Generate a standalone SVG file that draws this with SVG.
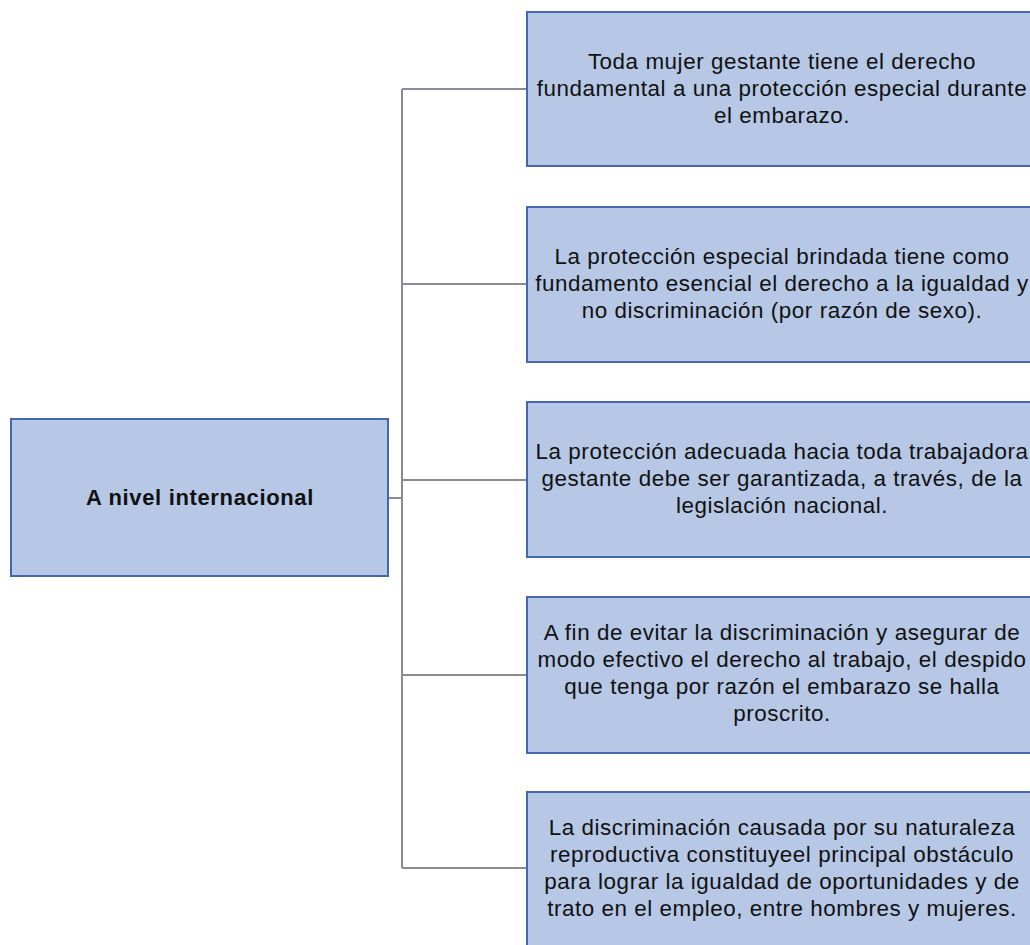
<svg xmlns="http://www.w3.org/2000/svg" width="1030" height="945" viewBox="0 0 1030 945">
<style>
.box{fill:#b6c8e6;stroke:#4467b0;stroke-width:2}
.t{font-family:"Liberation Sans",Arial,sans-serif;font-size:22.4px;letter-spacing:0.55px;fill:#111;text-anchor:middle}
.b{font-weight:bold;font-size:22px;letter-spacing:0.65px}
.c{stroke:#8a8a98;stroke-width:2;fill:none}
</style>
<rect width="1030" height="945" fill="#ffffff"/>
<g id="connectors">
<line class="c" x1="402" y1="89" x2="402" y2="868"/>
<line class="c" x1="389" y1="498" x2="402" y2="498"/>
<line class="c" x1="402" y1="89" x2="527" y2="89"/>
<line class="c" x1="402" y1="284" x2="527" y2="284"/>
<line class="c" x1="402" y1="480" x2="527" y2="480"/>
<line class="c" x1="402" y1="675" x2="527" y2="675"/>
<line class="c" x1="402" y1="868" x2="527" y2="868"/>
</g>
<g id="root">
<rect class="box" x="11" y="419" width="377" height="157"/>
<text class="t b" x="200" y="505">A nivel internacional</text>
</g>
<g id="n1">
<rect class="box" x="527" y="12" width="520" height="154"/>
<text class="t" x="782" y="69">Toda mujer gestante tiene el derecho</text>
<text class="t" x="782" y="96">fundamental a una protección especial durante</text>
<text class="t" x="782" y="123">el embarazo.</text>
</g>
<g id="n2">
<rect class="box" x="527" y="207" width="520" height="155"/>
<text class="t" x="782" y="264">La protección especial brindada tiene como</text>
<text class="t" x="782" y="291">fundamento esencial el derecho a la igualdad y</text>
<text class="t" x="782" y="318">no discriminación (por razón de sexo).</text>
</g>
<g id="n3">
<rect class="box" x="527" y="402" width="520" height="155"/>
<text class="t" x="782" y="459">La protección adecuada hacia toda trabajadora</text>
<text class="t" x="782" y="486">gestante debe ser garantizada, a través, de la</text>
<text class="t" x="782" y="513">legislación nacional.</text>
</g>
<g id="n4">
<rect class="box" x="527" y="597" width="520" height="156"/>
<text class="t" x="782" y="640">A fin de evitar la discriminación y asegurar de</text>
<text class="t" x="782" y="667">modo efectivo el derecho al trabajo, el despido</text>
<text class="t" x="782" y="694">que tenga por razón el embarazo se halla</text>
<text class="t" x="782" y="721">proscrito.</text>
</g>
<g id="n5">
<rect class="box" x="527" y="792" width="520" height="170"/>
<text class="t" x="782" y="835">La discriminación causada por su naturaleza</text>
<text class="t" x="782" y="862">reproductiva constituyeel principal obstáculo</text>
<text class="t" x="782" y="889">para lograr la igualdad de oportunidades y de</text>
<text class="t" x="782" y="916">trato en el empleo, entre hombres y mujeres.</text>
</g>
</svg>
